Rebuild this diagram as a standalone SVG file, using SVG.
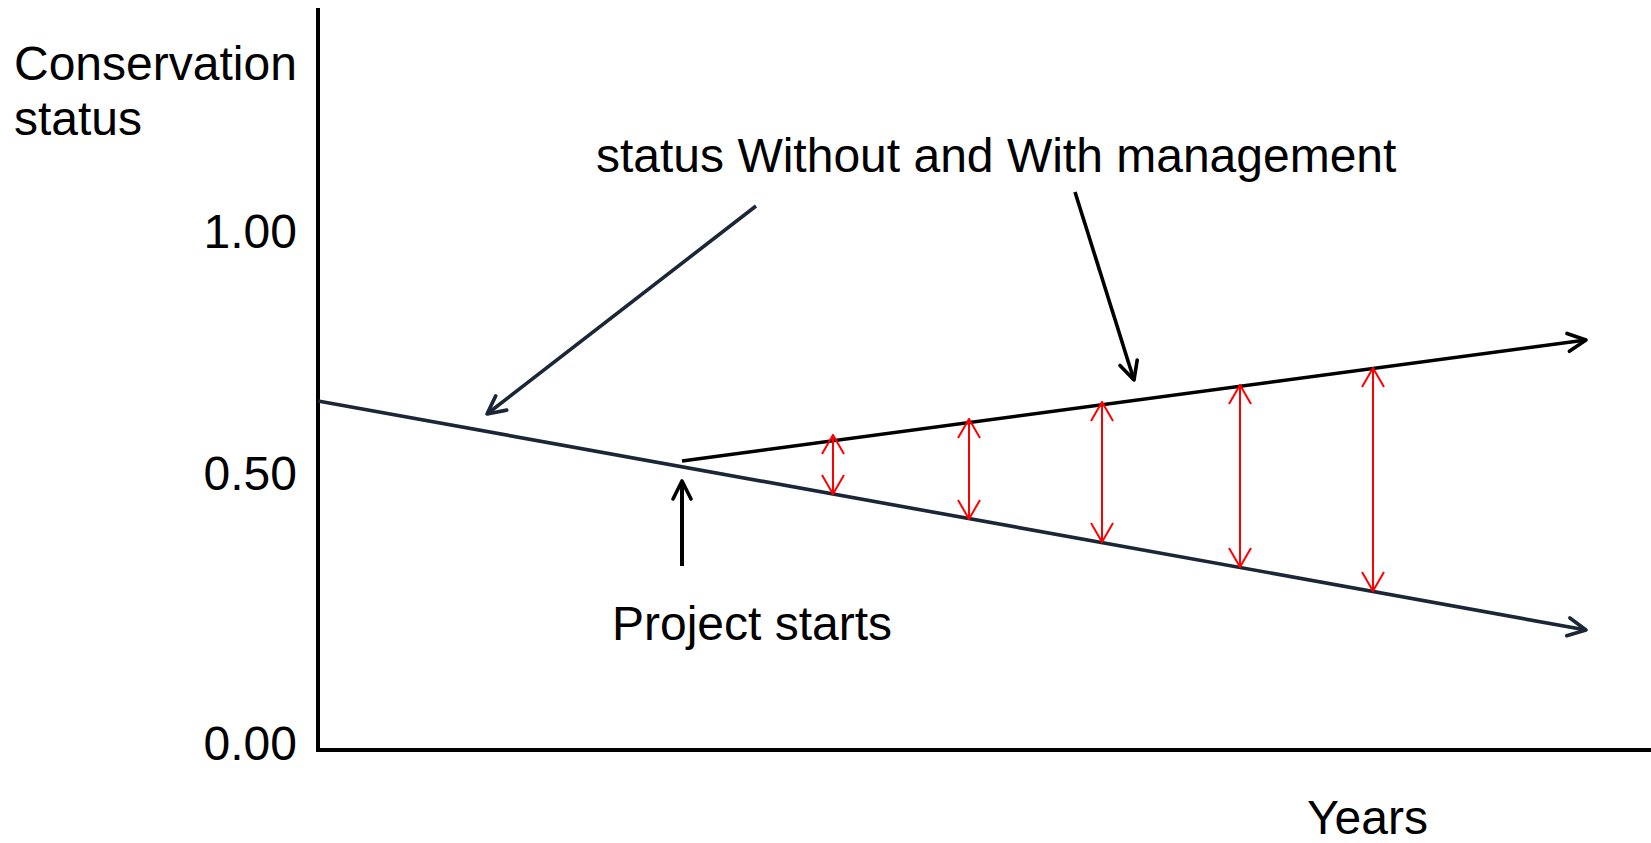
<svg xmlns="http://www.w3.org/2000/svg" width="1651" height="843" viewBox="0 0 1651 843">
<defs>
<style>
text{font-family:"Liberation Sans",Arial,sans-serif;font-size:48px;fill:#000}
.ax{stroke:#000;stroke-width:4;fill:none}
.nv{stroke:#1b2636;stroke-width:3.6;fill:none}
.bk{stroke:#000;stroke-width:3.6;fill:none}
.ps{stroke:#000;stroke-width:4;fill:none}
.rd{stroke:#ff0000;stroke-width:2;fill:none}
</style>
<marker id="an" viewBox="0 0 24 24" refX="21" refY="12" markerWidth="24" markerHeight="24" markerUnits="userSpaceOnUse" orient="auto-start-reverse">
<path d="M3,3 L21,12 L3,21" fill="none" stroke="#1b2636" stroke-width="3.6" stroke-linecap="round" stroke-linejoin="round"/>
</marker>
<marker id="ab" viewBox="0 0 24 24" refX="21" refY="12" markerWidth="24" markerHeight="24" markerUnits="userSpaceOnUse" orient="auto-start-reverse">
<path d="M3,3 L21,12 L3,21" fill="none" stroke="#000" stroke-width="3.6" stroke-linecap="round" stroke-linejoin="round"/>
</marker>
<marker id="ar" viewBox="0 0 22 26" refX="21" refY="13" markerWidth="22" markerHeight="26" markerUnits="userSpaceOnUse" orient="auto-start-reverse">
<path d="M2,2 L21,13 L2,24" fill="none" stroke="#ff0000" stroke-width="2"/>
</marker>
</defs>
<rect width="1651" height="843" fill="#fff"/>
<g id="axes">
<path class="ax" d="M318,8 V750 H1651"/>
</g>
<g id="labels">
<text x="14" y="80">Conservation</text>
<text x="14" y="135">status</text>
<text x="297" y="248" text-anchor="end">1.00</text>
<text x="297" y="490" text-anchor="end">0.50</text>
<text x="297" y="760" text-anchor="end">0.00</text>
<text x="596" y="172">status Without and With management</text>
<text x="612" y="640">Project starts</text>
<text x="1307" y="834">Years</text>
</g>
<g id="connectors">
<line class="nv" x1="318" y1="401" x2="1586" y2="630" marker-end="url(#an)"/>
<line class="bk" x1="682" y1="461" x2="1586" y2="340" marker-end="url(#ab)"/>
<line class="nv" x1="756" y1="206" x2="487" y2="414" marker-end="url(#an)"/>
<line class="bk" x1="1075" y1="192" x2="1134" y2="380" marker-end="url(#ab)"/>
<line class="ps" x1="682" y1="566" x2="682" y2="481" marker-end="url(#ab)"/>
<line class="rd" x1="833" y1="435" x2="833" y2="494" marker-start="url(#ar)" marker-end="url(#ar)"/>
<line class="rd" x1="969" y1="419" x2="969" y2="519" marker-start="url(#ar)" marker-end="url(#ar)"/>
<line class="rd" x1="1102" y1="402" x2="1102" y2="542" marker-start="url(#ar)" marker-end="url(#ar)"/>
<line class="rd" x1="1240" y1="385" x2="1240" y2="567" marker-start="url(#ar)" marker-end="url(#ar)"/>
<line class="rd" x1="1373" y1="368" x2="1373" y2="591" marker-start="url(#ar)" marker-end="url(#ar)"/>
</g>
</svg>
